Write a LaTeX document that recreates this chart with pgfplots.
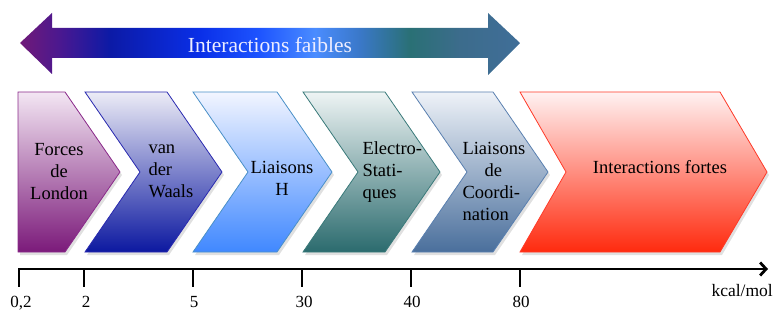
\documentclass[border=0pt]{standalone}
\usepackage{pgfplots}
\pgfplotsset{compat=1.18}
\usepackage{fontspec}
\setmainfont{Liberation Serif}
\usetikzlibrary{arrows.meta}
\definecolor{a0}{HTML}{701A78}
\definecolor{a1}{HTML}{4A1890}
\definecolor{a2}{HTML}{0C1AA6}
\definecolor{a3}{HTML}{0A2FE8}
\definecolor{a4}{HTML}{1E55FF}
\definecolor{a5}{HTML}{4A8CFF}
\definecolor{a6}{HTML}{3A78C8}
\definecolor{a7}{HTML}{2A7075}
\definecolor{a8}{HTML}{3C6C8C}
\definecolor{a9}{HTML}{406E98}
\pgfdeclarehorizontalshading{faibles}{100bp}{color(0bp)=(a0); color(25bp)=(a0); color(29bp)=(a1); color(34bp)=(a2); color(43bp)=(a3); color(49bp)=(a4); color(54.5bp)=(a5); color(59bp)=(a6); color(64bp)=(a7); color(69bp)=(a8); color(75bp)=(a9); color(100bp)=(a9)}
\definecolor{p1t}{HTML}{F3E6F3}\definecolor{p1b}{HTML}{7B1A7A}\definecolor{p1d}{HTML}{8A2A8A}
\definecolor{p2t}{HTML}{ECECF6}\definecolor{p2b}{HTML}{0C18A0}\definecolor{p2d}{HTML}{2A2AB0}
\definecolor{p3t}{HTML}{F2F5FF}\definecolor{p3b}{HTML}{4088FF}\definecolor{p3d}{HTML}{4A90C8}
\definecolor{p4t}{HTML}{EEF4F4}\definecolor{p4b}{HTML}{2B6B6E}\definecolor{p4d}{HTML}{3A7A7A}
\definecolor{p5t}{HTML}{EEF2F8}\definecolor{p5b}{HTML}{4A6F9C}\definecolor{p5d}{HTML}{5A80B0}
\definecolor{p6t}{HTML}{FFF2F2}\definecolor{p6m}{HTML}{FF6A5E}\definecolor{p6b}{HTML}{FF2A0E}\definecolor{p6d}{HTML}{FF3A28}
\definecolor{txt}{HTML}{222222}
\tikzset{tl/.style={anchor=base, inner sep=0pt, font=\fontsize{17}{20}\selectfont}}
\begin{document}
\begin{tikzpicture}
\begin{axis}[
  width=774pt, height=313pt, scale only axis,
  xmin=0, xmax=774, ymin=0, ymax=313, y dir=reverse,
  hide axis, clip=false,
  every node/.style={text=txt},
]
% shadows
\pgfplotsset{shadow/.style={fill=black, fill opacity=0.12, draw=none}}
% Top double arrow
\addplot[draw=none, shading=faibles] coordinates {(20,43) (52,13) (52,28) (488,28) (488,13) (520,43) (488,75) (488,58) (52,58) (52,74) (20,43)};
\node[font=\fontsize{21.5}{24}\selectfont, text=white!93!blue] at (axis cs:270,45) {Interactions faibles};
% Chevrons shadows
\addplot[shadow] coordinates {(20,95) (67,95) (122,175) (67,255) (20,255) (20,95)};
\addplot[shadow] coordinates {(87,95) (169,95) (224,175) (169,255) (87,255) (142,175) (87,95)};
\addplot[shadow] coordinates {(195,95) (279,95) (334,175) (279,255) (195,255) (250,175) (195,95)};
\addplot[shadow] coordinates {(305,95) (387,95) (442,175) (387,255) (305,255) (360,175) (305,95)};
\addplot[shadow] coordinates {(414,95) (495,95) (550,175) (495,255) (414,255) (469,175) (414,95)};
\addplot[shadow] coordinates {(522,95) (722,95) (769,175) (722,255) (522,255) (568,175) (522,95)};
% Chevrons
\addplot[draw=p1d, line width=0.8pt, top color=p1t, bottom color=p1b, line join=miter] coordinates {(18,92) (65,92) (120,172) (65,252) (18,252) (18,92)} -- cycle;
\addplot[draw=p2d, line width=0.8pt, top color=p2t, bottom color=p2b] coordinates {(85,92) (167,92) (222,172) (167,252) (85,252) (140,172) (85,92)} -- cycle;
\addplot[draw=p3d, line width=0.8pt, top color=p3t, bottom color=p3b] coordinates {(193,92) (277,92) (332,172) (277,252) (193,252) (248,172) (193,92)} -- cycle;
\addplot[draw=p4d, line width=0.8pt, top color=p4t, bottom color=p4b] coordinates {(303,92) (385,92) (440,172) (385,252) (303,252) (358,172) (303,92)} -- cycle;
\addplot[draw=p5d, line width=0.8pt, top color=p5t, bottom color=p5b] coordinates {(412,92) (493,92) (548,172) (493,252) (412,252) (467,172) (412,92)} -- cycle;
\addplot[draw=p6d, line width=0.8pt, top color=p6t, middle color=p6m, bottom color=p6b] coordinates {(520,92) (720,92) (767,172) (720,252) (520,252) (566,172) (520,92)} -- cycle;
% Chevron labels
\node[align=center, font=\fontsize{18.5}{22}\selectfont] at (axis cs:59,172) {Forces\\de\\London};
\node[align=left, anchor=west, font=\fontsize{18.5}{22}\selectfont] at (axis cs:145,171) {van\\der\\Waals};
\node[align=center, font=\fontsize{18.5}{22}\selectfont] at (axis cs:282,178) {Liaisons\\H};
\node[align=left, anchor=west, font=\fontsize{18.5}{22}\selectfont] at (axis cs:359,172) {Electro-\\Stati-\\ques};
\node[align=left, anchor=west, font=\fontsize{18.5}{22}\selectfont] at (axis cs:459,181) {Liaisons\\\hspace*{22pt}de\\Coordi-\\nation};
\node[font=\fontsize{18.5}{22}\selectfont] at (axis cs:660,167) {Interactions fortes};
% Energy axis
\addplot[black, line width=2.8pt, -{Straight Barb[length=6pt,width=13pt]}] coordinates {(18,269) (768,269)};
\addplot[black, line width=2.8pt] coordinates {(19,268) (19,287)};
\addplot[black, line width=2.8pt] coordinates {(84,268) (84,287)};
\addplot[black, line width=2.8pt] coordinates {(193,268) (193,287)};
\addplot[black, line width=2.8pt] coordinates {(302,268) (302,287)};
\addplot[black, line width=2.8pt] coordinates {(411,268) (411,287)};
\addplot[black, line width=2.8pt] coordinates {(520,268) (520,287)};
\node[tl] at (axis cs:21,307) {0,2};
\node[tl] at (axis cs:86,307) {2};
\node[tl] at (axis cs:194,307) {5};
\node[tl] at (axis cs:304,307) {30};
\node[tl] at (axis cs:412,307) {40};
\node[tl] at (axis cs:521,307) {80};
\node[anchor=base east, inner sep=0pt, font=\fontsize{17.5}{20}\selectfont] at (axis cs:773,296) {kcal/mol};
\end{axis}
\pgfresetboundingbox
\path[use as bounding box] (current axis.south west) rectangle (current axis.north east);
\end{tikzpicture}
\end{document}
